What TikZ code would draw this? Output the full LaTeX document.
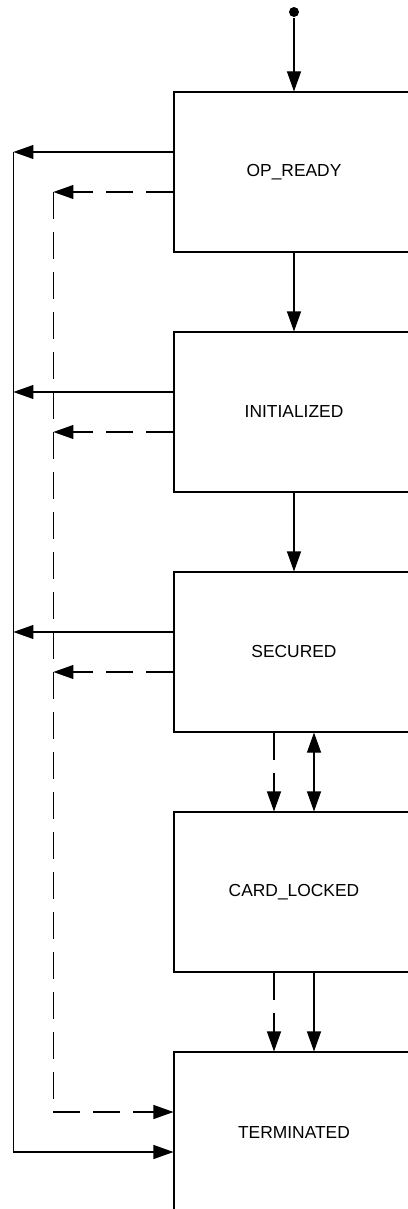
\documentclass[tikz,border=0pt]{standalone}
\usepackage{fontspec}
\setmainfont{Liberation Sans}
\usetikzlibrary{arrows.meta}
\begin{document}
\begin{tikzpicture}[x=1pt,y=-1pt,line width=1.1pt,
	>={Triangle[length=20pt,width=14pt]},
	state/.style={draw,rectangle,minimum width=240pt,minimum height=160pt,font=\fontsize{17.4}{20}\selectfont},
	broken/.style={dash pattern=on 27pt off 13pt}]

	\useasboundingbox (0,0) rectangle (407,1209);

	% allapotok
	\node[circle,fill,inner sep=0pt,minimum size=10pt] (start) at (294,12) {};
	\node[state] (opready) at (294,172) {OP\_READY};
	\node[state] (initialized) at (294,412) {INITIALIZED};
	\node[state] (secured) at (294,652) {SECURED};
	\node[state] (cardlocked) at (294,892) {CARD\_LOCKED};
	\node[state] (terminated) at (294,1132) {TERMINATED};

	% lefele
	\draw [->] (start) -- (opready);
	\draw [->] (opready) -- (initialized);
	\draw [->] (initialized) -- (secured);
	\draw [->,broken] ([xshift=-20pt]secured.south) -- ([xshift=-20pt]cardlocked.north);
	\draw [<->] ([xshift=20pt]secured.south) -- ([xshift=20pt]cardlocked.north);
	\draw [->,broken] ([xshift=-20pt]cardlocked.south) -- ([xshift=-20pt]terminated.north);
	\draw [->] ([xshift=20pt]cardlocked.south) -- ([xshift=20pt]terminated.north);

	% bal oldali gyujtovonalak
	\draw [->] ([yshift=20pt]opready.west) -- +(-160pt,0);
	\draw [->] ([yshift=20pt]initialized.west) -- +(-160pt,0);
	\draw [->] ([yshift=20pt]secured.west) -- +(-160pt,0);
	\draw [->] ([yshift=20pt]opready.west) ++(-160pt,0) |- ([yshift=-20pt]terminated.west);

	\draw [->,broken] ([yshift=-20pt]opready.west) -- +(-120pt,0);
	\draw [->,broken] ([yshift=-20pt]initialized.west) -- +(-120pt,0);
	\draw [->,broken] ([yshift=-20pt]secured.west) -- +(-120pt,0);
	\draw [->,broken] ([yshift=-20pt]opready.west) ++(-120pt,0) |- ([yshift=20pt]terminated.west);

\end{tikzpicture}
\end{document}
